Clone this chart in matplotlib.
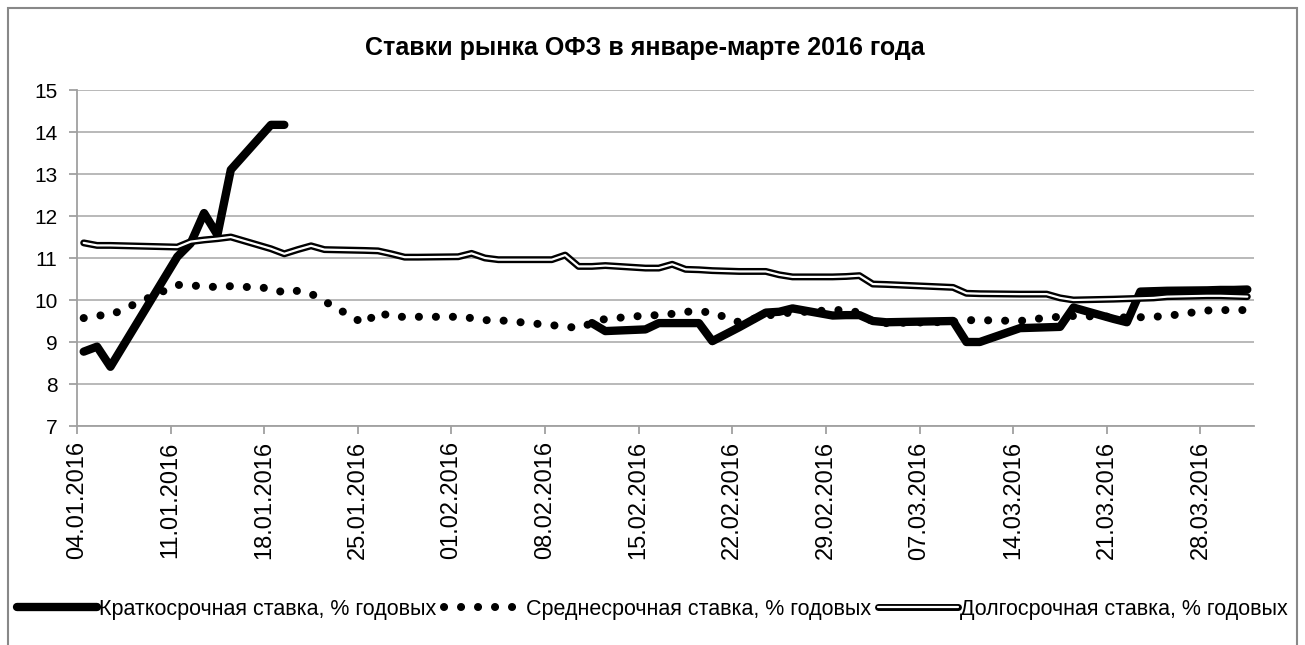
import numpy as np
import pandas as pd
import matplotlib
matplotlib.use("Agg")
import matplotlib.pyplot as plt
import matplotlib.dates as mdates
from matplotlib.patches import Rectangle

# ---------------- data ----------------
jan_days = [4, 5, 6, 11, 12, 13, 14, 15, 18, 19, 20, 21, 22, 25, 26, 27, 28, 29]
feb_days = [1, 2, 3, 4, 5, 8, 9, 10, 11, 12, 15, 16, 17, 18, 19, 20, 22, 24, 25, 26, 29]
mar_days = [1, 2, 3, 4, 9, 10, 11, 14, 15, 16, 17, 18, 21, 22, 23, 24, 25, 28, 29, 30, 31]

dates = ([f"2016-01-{d:02d}" for d in jan_days]
         + [f"2016-02-{d:02d}" for d in feb_days]
         + [f"2016-03-{d:02d}" for d in mar_days])

nan = np.nan
short_rate = [8.77, 8.89, 8.41, 11.03, 11.35, 12.07, 11.55, 13.1, 14.17, 14.17,
              nan, nan, nan, nan, nan, nan, nan, nan,
              nan, nan, nan, nan, nan, nan, nan, nan,
              9.45, 9.26, 9.3, 9.45, 9.45, 9.45, 9.45, 9.02, 9.35, 9.7, 9.72, 9.8, 9.63,
              9.64, 9.64, 9.5, 9.47, 9.5, 9.0, 9.0, 9.33, 9.34, 9.35, 9.36, 9.82,
              9.55, 9.47, 10.2, 10.21, 10.22, 10.23, 10.24, 10.24, 10.25]

mid_rate = [9.57, 9.63, 9.64, 10.36, 10.35, 10.32, 10.31, 10.33, 10.28, 10.17,
            10.22, 10.15, 9.97, 9.43, 9.72, 9.6, 9.6, 9.6,
            9.6, 9.57, 9.52, 9.52, 9.49, 9.4, 9.37, 9.33, 9.45, 9.55, 9.63, 9.64,
            9.67, 9.72, 9.73, 9.7, 9.47, 9.62, 9.68, 9.7, 9.76,
            9.76, 9.7, 9.48, 9.45, 9.48, 9.52, 9.52, 9.5, 9.54, 9.58, 9.6, 9.62,
            9.6, 9.58, 9.59, 9.6, 9.62, 9.75, 9.76, 9.76, 9.76]

long_rate = [11.36, 11.3, 11.3, 11.26, 11.39, 11.43, 11.46, 11.5, 11.22, 11.1,
             11.2, 11.29, 11.2, 11.18, 11.17, 11.1, 11.02, 11.02,
             11.03, 11.11, 11.0, 10.96, 10.96, 10.96, 11.07, 10.8, 10.8, 10.82,
             10.76, 10.76, 10.85, 10.73, 10.72, 10.7, 10.68, 10.68, 10.6, 10.55, 10.55,
             10.56, 10.58, 10.38, 10.37, 10.3, 10.16, 10.15, 10.14, 10.14, 10.14,
             10.05, 10.0, 10.02, 10.03, 10.04, 10.05, 10.08, 10.1, 10.1, 10.09, 10.08]

labels = ["Краткосрочная ставка, % годовых",
          "Среднесрочная ставка, % годовых",
          "Долгосрочная ставка, % годовых"]
title = "Ставки рынка ОФЗ в январе-марте 2016 года"

FONT = ["Liberation Sans", "DejaVu Sans"]

# ---------------- figure ----------------
W, H = 1305, 645
fig = plt.figure(figsize=(W / 100, H / 100), dpi=100)
ax = fig.add_axes([77 / W, 1 - 426 / H, (1254 - 77) / W, (426 - 90) / H])

# points sit in the middle of each day on the date axis
x = pd.to_datetime(dates) + pd.Timedelta(hours=12)

l1, = ax.plot(x, short_rate, color="black", lw=6.0,
              solid_capstyle="round", solid_joinstyle="round", zorder=3)
l2, = ax.plot(x, mid_rate, color="black", lw=5.8, linestyle=(0, (0.01, 2.1)),
              dash_capstyle="round", zorder=4)
l3a, = ax.plot(x, long_rate, color="black", lw=5.0,
               solid_capstyle="round", solid_joinstyle="round", zorder=5)
l3b, = ax.plot(x, long_rate, color="white", lw=1.6,
               solid_capstyle="round", solid_joinstyle="round", zorder=6)

ax.set_ylim(7, 15)
ax.set_yticks(range(7, 16))
ax.set_xlim(pd.Timestamp("2016-01-04"), pd.Timestamp("2016-04-01"))
ax.set_xticks(pd.date_range("2016-01-04", "2016-03-28", freq="7D"))
ax.xaxis.set_major_formatter(mdates.DateFormatter("%d.%m.%Y"))

ax.yaxis.grid(True, color="#b3b3b3", lw=1.3)
ax.set_axisbelow(True)
for s in ["top", "right"]:
    ax.spines[s].set_visible(False)
for s in ["left", "bottom"]:
    ax.spines[s].set_color("#a0a0a0")
    ax.spines[s].set_linewidth(1.3)

ax.tick_params(axis="both", colors="#a0a0a0", width=1.3, length=6,
               labelcolor="black")
ax.tick_params(axis="x", rotation=90, pad=5, labelsize=17)
ax.tick_params(axis="y", pad=8, labelsize=15)
for t in ax.get_xticklabels() + ax.get_yticklabels():
    t.set_family(FONT)

fig.text(645 / W, 1 - 48 / H, title, ha="center", va="center", fontsize=18,
         fontweight="bold", family=FONT)

fig.legend([l1, l2, (l3a, l3b)], labels, loc="center",
           bbox_to_anchor=(0.5, 1 - 609 / H), ncol=3, frameon=False,
           handlelength=3.7, handletextpad=0.1, columnspacing=0.35,
           borderpad=0, borderaxespad=0,
           prop={"family": FONT, "size": 15.5})

# outer chart frame
fig.patches.append(Rectangle((8 / W, -0.05), (1297 - 8) / W, 1.05 - 8 / H,
                             transform=fig.transFigure, fill=False,
                             edgecolor="#888888", lw=1.5))

fig.savefig("out.png", dpi=100)
